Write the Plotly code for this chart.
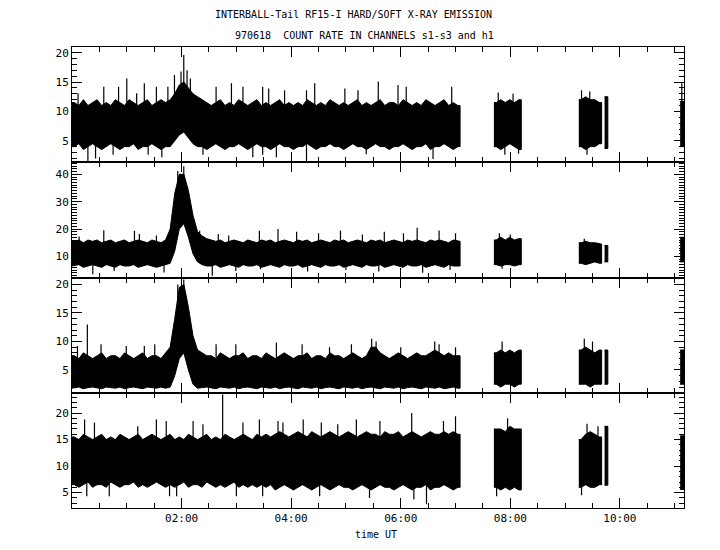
import plotly.graph_objects as go

# ---------------- data (hours UT, count rates) ----------------
BIN = 5 / 60
seg_start = [0.0, 7.70, 9.25, 9.72, 11.10]
seg_width = [BIN, BIN, BIN, 0.06, 0.07]
seg_nbins = [85, 6, 5, 1, 1]

# panel 1 (s1) band top / bottom per bin
p1_hi = [11.5, 11.0, 12.0, 11.0, 11.5, 12.0, 11.0, 11.5, 11.0, 12.0,
         11.5, 11.0, 12.0, 11.5, 11.0, 11.5, 12.0, 11.0, 11.5, 12.0,
         11.5, 12.0, 13.0, 14.5, 15.0, 14.0, 13.0, 12.5, 12.0, 11.5,
         11.0, 11.5, 12.0, 11.0, 11.5, 11.0, 12.0, 11.5, 11.0, 11.5,
         12.0, 11.0, 11.5, 11.0, 11.5, 12.0, 11.0, 11.5, 11.0, 11.5,
         11.0, 12.0, 11.5, 11.0, 11.5, 11.0, 12.0, 11.5, 11.0, 11.5,
         11.0, 11.5, 12.0, 11.0, 11.5, 11.0, 11.5, 12.0, 11.0, 11.5,
         11.5, 11.0, 12.0, 11.5, 11.0, 11.5, 11.0, 12.0, 11.5, 11.0,
         11.5, 12.0, 11.0, 11.5, 11.0,
         11.5, 12.0, 11.5, 12.0, 11.5, 12.0,
         12.0, 12.5, 12.0, 12.0, 11.5,
         12.5, 11.7]
p1_lo = [4.0, 4.5, 3.5, 4.0, 4.5, 4.0, 3.5, 4.0, 4.5, 4.0,
         3.5, 4.0, 4.0, 4.5, 3.5, 4.0, 4.0, 4.5, 4.0, 3.5,
         4.0, 4.0, 5.0, 6.0, 6.5, 5.5, 4.5, 4.0, 4.0, 3.5,
         4.0, 4.5, 4.0, 3.5, 4.0, 4.0, 4.5, 4.0, 3.5, 4.0,
         4.5, 4.0, 4.0, 3.5, 4.0, 4.5, 4.0, 4.0, 3.5, 4.0,
         4.0, 4.5, 4.0, 3.5, 4.0, 4.0, 4.5, 4.0, 4.0, 3.5,
         4.0, 4.5, 4.0, 4.0, 3.5, 4.0, 4.5, 4.0, 4.0, 3.5,
         4.0, 4.0, 4.5, 4.0, 3.5, 4.0, 4.0, 4.5, 3.5, 4.0,
         4.0, 4.5, 4.0, 3.5, 4.0,
         4.0, 3.5, 4.0, 4.5, 4.0, 3.5,
         4.0, 3.5, 4.0, 4.0, 4.5,
         3.7, 4.0]

# panel 2 (s2)
p2_hi = [15.5, 16.0, 15.0, 16.0, 15.5, 16.0, 15.0, 15.5, 16.0, 15.0,
         15.5, 16.0, 15.0, 15.5, 16.0, 15.5, 15.0, 16.0, 15.5, 15.0,
         16.0, 20.0, 33.0, 40.0, 40.0, 34.0, 25.0, 19.0, 17.5, 16.5,
         16.0, 15.5, 16.0, 15.0, 15.5, 16.0, 15.5, 15.0, 16.0, 15.5,
         15.0, 16.0, 15.5, 16.0, 15.0, 15.5, 16.0, 15.5, 15.0, 16.0,
         15.5, 16.0, 15.0, 15.5, 16.0, 15.5, 15.0, 16.0, 15.5, 16.0,
         15.0, 15.5, 16.0, 15.5, 15.0, 16.0, 15.5, 16.0, 15.0, 15.5,
         16.0, 15.5, 15.0, 16.0, 15.5, 16.0, 15.5, 15.0, 16.0, 15.5,
         16.0, 15.5, 15.0, 16.0, 15.5,
         16.0, 17.0, 16.0, 17.0, 16.0, 16.5,
         15.0, 15.5, 15.0, 15.0, 14.5,
         14.0, 17.0]
p2_lo = [6.5, 7.0, 6.0, 6.5, 7.0, 6.5, 6.0, 7.0, 6.5, 6.0,
         7.0, 6.5, 6.5, 7.0, 6.0, 6.5, 7.0, 6.5, 6.0, 6.5,
         7.0, 7.5, 12.0, 20.0, 22.0, 17.0, 11.0, 8.0, 7.0, 6.5,
         6.5, 7.0, 6.0, 6.5, 7.0, 6.5, 6.0, 7.0, 6.5, 6.5,
         7.0, 6.0, 6.5, 7.0, 6.5, 6.0, 7.0, 6.5, 6.5, 7.0,
         6.0, 6.5, 7.0, 6.5, 6.0, 7.0, 6.5, 6.5, 7.0, 6.0,
         6.5, 7.0, 6.5, 6.0, 7.0, 6.5, 6.5, 7.0, 6.0, 6.5,
         7.0, 6.5, 6.0, 7.0, 6.5, 6.5, 7.0, 6.0, 6.5, 7.0,
         6.5, 6.0, 7.0, 6.5, 6.5,
         7.0, 6.5, 7.0, 7.0, 6.5, 7.0,
         7.5, 7.0, 7.5, 8.0, 7.5,
         8.0, 8.0]

# panel 3 (s3)
p3_hi = [7.5, 7.0, 8.0, 7.5, 7.0, 7.5, 8.0, 7.0, 7.5, 7.5,
         7.0, 8.0, 7.5, 7.0, 7.5, 8.0, 7.0, 7.5, 7.5, 7.0,
         8.0, 9.0, 14.0, 19.5, 20.0, 16.0, 11.0, 8.5, 8.0, 7.5,
         7.5, 7.0, 8.0, 7.5, 7.0, 7.5, 7.5, 8.0, 7.0, 7.5,
         7.5, 7.0, 8.0, 7.5, 7.0, 7.5, 8.0, 7.5, 7.0, 7.5,
         7.5, 8.0, 7.0, 7.5, 7.5, 7.0, 8.0, 7.5, 7.5, 7.0,
         7.5, 8.0, 7.5, 7.0, 7.5, 9.0, 9.0, 8.0, 7.5, 7.0,
         7.5, 8.0, 7.5, 7.0, 7.5, 8.0, 7.5, 7.5, 8.0, 8.5,
         8.0, 7.5, 8.0, 7.5, 7.5,
         8.0, 8.5, 8.0, 8.5, 8.0, 8.5,
         8.5, 9.0, 8.5, 8.0, 8.5,
         8.5, 8.5]
p3_lo = [1.8, 2.0, 1.7, 1.9, 2.0, 1.8, 1.7, 2.0, 1.9, 1.8,
         2.0, 1.7, 1.9, 2.0, 1.8, 1.7, 2.0, 1.9, 1.8, 2.0,
         1.8, 2.0, 4.0, 7.0, 8.0, 5.0, 2.5, 1.8, 1.9, 2.0,
         1.8, 1.7, 2.0, 1.9, 1.8, 2.0, 1.7, 1.9, 2.0, 1.8,
         1.7, 2.0, 1.9, 1.8, 2.0, 1.7, 1.9, 2.0, 1.8, 1.7,
         2.0, 1.9, 1.8, 2.0, 1.7, 1.9, 2.0, 1.8, 1.7, 2.0,
         1.9, 1.8, 2.0, 1.7, 1.9, 2.0, 1.8, 1.7, 2.0, 1.9,
         1.8, 2.0, 1.7, 1.9, 2.0, 1.8, 1.7, 2.0, 1.9, 1.8,
         2.0, 1.7, 1.9, 2.0, 1.8,
         2.5, 2.0, 2.5, 2.5, 2.0, 2.5,
         2.5, 2.5, 2.0, 2.5, 2.5,
         2.5, 2.5]

# panel 4 (h1)
p4_hi = [15.5, 15.0, 16.0, 15.5, 15.0, 15.5, 16.0, 15.0, 15.5, 15.0,
         16.0, 15.5, 15.0, 15.5, 16.0, 15.0, 15.5, 16.0, 15.5, 15.0,
         15.5, 16.0, 15.0, 15.5, 15.0, 16.0, 15.5, 15.0, 15.5, 16.0,
         15.0, 15.5, 15.0, 16.0, 15.5, 15.0, 15.5, 16.0, 15.5, 15.0,
         16.0, 15.5, 16.0, 15.5, 16.0, 16.5, 16.0, 15.5, 16.0, 16.5,
         16.0, 15.5, 16.5, 16.0, 15.5, 16.0, 16.5, 16.0, 15.5, 16.0,
         16.5, 16.0, 15.5, 16.0, 16.5, 16.0, 16.0, 15.5, 16.5, 16.0,
         16.0, 16.5, 15.5, 16.0, 16.5, 16.0, 15.5, 16.0, 16.5, 16.0,
         16.0, 16.5, 16.0, 16.5, 16.0,
         17.0, 17.0, 16.5, 17.5, 17.0, 17.0,
         15.0, 16.0, 16.5, 16.0, 15.5,
         17.5, 15.7]
p4_lo = [6.5, 6.0, 6.5, 7.0, 6.0, 6.5, 6.5, 6.0, 7.0, 6.5,
         6.0, 6.5, 6.5, 7.0, 6.0, 6.5, 6.0, 6.5, 7.0, 6.5,
         6.0, 6.5, 6.0, 6.5, 7.0, 6.0, 6.5, 6.5, 6.0, 7.0,
         6.5, 6.0, 6.5, 6.0, 6.5, 7.0, 6.0, 6.5, 6.0, 6.5,
         6.0, 6.5, 6.0, 6.5, 5.5, 6.0, 6.5, 6.0, 5.5, 6.0,
         6.5, 6.0, 5.5, 6.0, 6.5, 6.0, 5.5, 6.0, 6.5, 6.0,
         6.0, 5.5, 6.0, 6.5, 6.0, 5.5, 6.0, 6.5, 6.0, 6.0,
         5.5, 6.0, 6.5, 6.0, 5.5, 6.0, 6.0, 6.5, 5.5, 6.0,
         6.0, 6.5, 6.0, 5.5, 6.0,
         6.0, 5.5, 6.0, 5.5, 6.0, 5.5,
         6.0, 6.5, 6.0, 6.0, 6.5,
         6.4, 5.6]

# needles reaching beyond the band (time, value)
p1_up_t = [0.11, 0.58, 0.85, 1.00, 1.18, 1.32, 1.54, 1.75, 1.87, 1.99, 2.04, 2.10, 2.16, 2.63, 2.91,
           3.12, 3.48, 3.59, 3.88, 4.28, 4.43, 4.98, 5.22, 5.59, 5.95, 6.10, 6.93, 7.78, 8.05, 9.30, 9.45, 11.13]
p1_up_v = [13.1, 14.2, 14.2, 15.6, 13.1, 14.8, 14.2, 14.2, 16.2, 16.8, 19.6, 17.0, 15.6, 14.2, 14.8,
           14.2, 14.2, 13.9, 13.6, 13.6, 14.8, 13.9, 13.6, 15.1, 14.5, 14.2, 14.2, 13.2, 13.0, 13.6, 13.4, 14.8]
p1_dn_t = [0.29, 0.43, 0.75, 1.39, 1.64, 2.39, 3.30, 3.48, 3.73, 4.28, 5.37, 6.59, 7.90, 8.15, 9.40]
p1_dn_v = [1.4, 2.0, 2.6, 2.6, 2.2, 2.6, 2.2, 2.6, 2.2, 1.4, 2.7, 1.9, 2.6, 2.8, 2.6]

p2_up_t = [0.13, 0.58, 1.14, 1.23, 1.54, 1.93, 1.99, 2.04, 2.33, 2.67, 2.86, 3.42, 3.76,
           4.10, 4.50, 4.90, 5.30, 5.70, 6.05, 6.30, 6.70, 7.00, 7.80, 8.00, 9.35]
p2_up_v = [17.3, 19.6, 19.4, 18.2, 17.6, 41.2, 39.4, 42.9, 19.4, 18.2, 17.6, 19.4, 20.0,
           19.0, 18.5, 19.5, 18.0, 19.0, 18.5, 20.5, 19.5, 18.5, 18.5, 18.0, 16.5]
p2_dn_t = [0.38, 0.77, 1.68, 2.56, 2.99, 3.44, 4.30, 5.00, 5.60, 6.40, 6.90, 7.85]
p2_dn_v = [3.5, 4.7, 4.1, 2.9, 4.7, 5.3, 4.5, 5.0, 4.5, 4.0, 5.0, 5.5]

p3_up_t = [0.10, 0.28, 0.53, 0.99, 1.32, 1.51, 1.93, 2.04, 2.63, 2.99, 3.73,
           4.20, 4.70, 5.10, 5.47, 5.55, 6.00, 6.62, 6.70, 7.00, 7.85, 9.35, 9.50]
p3_up_v = [9.2, 13.0, 9.5, 9.2, 9.2, 9.5, 20.0, 20.9, 9.5, 9.5, 9.8,
           9.5, 9.0, 9.5, 10.5, 10.0, 9.0, 10.0, 9.5, 9.0, 10.0, 10.5, 10.0]

p4_up_t = [0.23, 0.41, 1.20, 1.54, 1.72, 2.21, 2.39, 2.75, 3.12, 3.42, 3.76, 3.85, 4.22, 4.55,
           4.85, 5.19, 5.62, 6.20, 6.78, 7.00, 7.95, 9.40, 9.60]
p4_up_v = [18.8, 18.2, 17.5, 18.8, 18.5, 18.5, 17.9, 23.5, 18.2, 18.8, 18.5, 18.2, 18.8, 18.2,
           17.9, 18.8, 18.5, 20.0, 18.5, 19.4, 19.0, 18.0, 17.5]
p4_dn_t = [0.27, 0.68, 1.78, 1.91, 3.00, 3.48, 4.52, 5.43, 6.24, 6.47, 7.75, 9.30]
p4_dn_v = [4.3, 4.3, 4.3, 4.3, 4.3, 4.3, 4.3, 4.0, 3.7, 2.8, 4.3, 4.5]

y_ranges = [[1.34, 20.97], [2.3, 44.4], [1.0, 21.23], [2.1, 23.83]]
y_dticks = [5, 10, 5, 5]
x_tick_vals = [0, 2, 4, 6, 8, 10]
x_tick_text = ["", "02:00", "04:00", "06:00", "08:00", "10:00"]

# ---------------- figure ----------------
def band_polygon(hi, lo):
    """Closed outline per data segment: top edge forward, bottom edge back."""
    X, Y = [], []
    idx = 0
    for st, w, n in zip(seg_start, seg_width, seg_nbins):
        xs = [st] + [st + (i + 0.5) * w for i in range(n)] + [st + n * w]
        h = [hi[idx]] + hi[idx:idx + n] + [hi[idx + n - 1]]
        l = [lo[idx]] + lo[idx:idx + n] + [lo[idx + n - 1]]
        X += xs + xs[::-1] + [None]
        Y += h + l[::-1] + [None]
        idx += n
    return X, Y

centres = []
for st, w, n in zip(seg_start, seg_width, seg_nbins):
    centres += [st + (i + 0.5) * w for i in range(n)]

def mid_at(t, hi, lo):
    best = min(range(len(centres)), key=lambda i: abs(centres[i] - t))
    return 0.5 * (hi[best] + lo[best])

def needles(ts, vs, hi, lo):
    X, Y = [], []
    for t, v in zip(ts, vs):
        X += [t, t, None]
        Y += [v, mid_at(t, hi, lo), None]
    return X, Y

panels = [
    (p1_hi, p1_lo, [(p1_up_t, p1_up_v), (p1_dn_t, p1_dn_v)]),
    (p2_hi, p2_lo, [(p2_up_t, p2_up_v), (p2_dn_t, p2_dn_v)]),
    (p3_hi, p3_lo, [(p3_up_t, p3_up_v)]),
    (p4_hi, p4_lo, [(p4_up_t, p4_up_v), (p4_dn_t, p4_dn_v)]),
]

fig = go.Figure()
domains = [[0.75, 1.0], [0.5, 0.75], [0.25, 0.5], [0.0, 0.25]]
FONT = "DejaVu Sans Mono"

for k, (hi, lo, nd) in enumerate(panels):
    xa = "x" if k == 0 else f"x{k+1}"
    ya = "y" if k == 0 else f"y{k+1}"
    PX, PY = band_polygon(hi, lo)
    fig.add_trace(go.Scatter(x=PX, y=PY, mode="lines", fill="toself", fillcolor="black",
                             line=dict(color="black", width=1),
                             xaxis=xa, yaxis=ya, showlegend=False, hoverinfo="skip"))
    for ts, vs in nd:
        X, Y = needles(ts, vs, hi, lo)
        fig.add_trace(go.Scatter(x=X, y=Y, mode="lines", line=dict(color="black", width=1.2),
                                 xaxis=xa, yaxis=ya, showlegend=False, hoverinfo="skip"))

axis_common = dict(showline=True, linecolor="black", linewidth=1, mirror="allticks",
                   ticks="inside", tickcolor="black", tickwidth=1, showgrid=False,
                   zeroline=False, tickfont=dict(family=FONT, size=11, color="black"))

# page body adds an 8 px offset, so the figure is 8 px smaller each way
layout = dict(
    width=712, height=542, paper_bgcolor="white", plot_bgcolor="white",
    margin=dict(l=64, r=36, t=39, b=42),
    font=dict(family=FONT, color="black"),
)
for k in range(4):
    xkey = "xaxis" if k == 0 else f"xaxis{k+1}"
    ykey = "yaxis" if k == 0 else f"yaxis{k+1}"
    ya = "y" if k == 0 else f"y{k+1}"
    layout[xkey] = dict(axis_common, range=[0, 11.17], anchor=ya,
                        tickmode="array", tickvals=x_tick_vals, ticktext=x_tick_text,
                        ticklen=10, showticklabels=(k == 3),
                        minor=dict(ticks="inside", ticklen=5, tick0=0, dtick=0.5,
                                   tickcolor="black", showgrid=False))
    if k != 0:
        layout[xkey]["matches"] = "x"
    layout[ykey] = dict(axis_common, range=y_ranges[k], domain=domains[k],
                        anchor="x" if k == 0 else f"x{k+1}",
                        tick0=0, dtick=y_dticks[k], ticklen=10,
                        minor=dict(ticks="inside", ticklen=5, dtick=1,
                                   tickcolor="black", showgrid=False))

fig.update_layout(**layout)

def px_to_paper(px, py):
    return (px - 8 - 64) / 612, (500 - (py - 8)) / 461

for txt, (px, py) in [("INTERBALL-Tail RF15-I HARD/SOFT X-RAY EMISSION", (353, 15)),
                      ("970618  COUNT RATE IN CHANNELS s1-s3 and h1", (364, 35)),
                      ("time UT", (376, 534))]:
    ax_, ay_ = px_to_paper(px, py)
    fig.add_annotation(text=txt, xref="paper", yref="paper", x=ax_, y=ay_,
                       xanchor="center", yanchor="middle",
                       showarrow=False, font=dict(family=FONT, size=10, color="black"))

fig.write_html("out.html")
